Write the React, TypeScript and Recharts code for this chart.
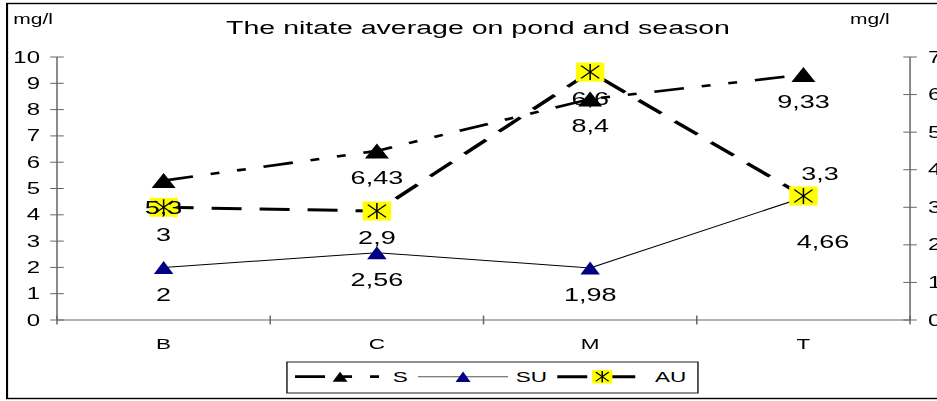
import React from "react";
import { LineChart, Line, XAxis, YAxis, LabelList } from "recharts";

// ponds and seasonal nitrate averages (mg/l)
const ponds = ["B", "C", "M", "T"];
const springValues = [5.3, 6.43, 8.4, 9.33];
const summerValues = [2, 2.56, 1.98, 4.66];
const autumnValues = [3, 2.9, 6.6, 3.3]; // plotted on the right axis
const leftTicks = [0, 1, 2, 3, 4, 5, 6, 7, 8, 9, 10];
const rightTicks = [0, 1, 2, 3, 4, 5, 6, 7];

const data = ponds.map((pond, i) => ({
  pond,
  S: springValues[i],
  SU: summerValues[i],
  AU: autumnValues[i],
}));

// the sheet is drawn narrow and then widened, like the exported figure
const STRETCH = 1.5;
const W = 640;
const H = 401;
const PLOT_LEFT = 38;
const PLOT_RIGHT = 606.7;
const PLOT_TOP = 57;
const PLOT_BOTTOM = 320;
const HALF_BAND = (PLOT_RIGHT - PLOT_LEFT) / 8;

const FONT = "'Liberation Sans', Arial, sans-serif";
const AXIS = "#666";
const NAVY = "#000080";
const YELLOW = "#FFFF00";
const S_DASH = "20 12 6 12 6 12";
const AU_DASH = "20 12";

// label shifts [dx, dy] from the point; default sits under the marker
const labelShift: Record<string, Record<number, [number, number]>> = {
  S: {},
  SU: { 3: [13, 44] },
  AU: { 3: [11, -22] },
};

const fmt = (v: number) => String(v).replace(".", ",");

function Triangle({ cx, cy, w, h, fill }: any) {
  return (
    <polygon
      points={`${cx},${cy - h / 2} ${cx + w / 2},${cy + h / 2} ${cx - w / 2},${cy + h / 2}`}
      fill={fill}
    />
  );
}

function Asterisk({ cx, cy, size = 19 }: any) {
  const r = size / 2;
  const arm = r * 0.84;
  const diag = r * 0.64;
  return (
    <g>
      <rect x={cx - r} y={cy - r} width={size} height={size} fill={YELLOW} />
      <line x1={cx} y1={cy - arm} x2={cx} y2={cy + arm} stroke="#000" strokeWidth={1} />
      <line x1={cx - diag} y1={cy - arm * 0.8} x2={cx + diag} y2={cy + arm * 0.8} stroke="#000" strokeWidth={1} />
      <line x1={cx - diag} y1={cy + arm * 0.8} x2={cx + diag} y2={cy - arm * 0.8} stroke="#000" strokeWidth={1} />
    </g>
  );
}

const springDot = (p: any) => (
  <Triangle key={`s-${p.index}`} cx={p.cx} cy={p.cy} w={16} h={15} fill="#000" />
);
const summerDot = (p: any) => (
  <Triangle key={`su-${p.index}`} cx={p.cx} cy={p.cy} w={13} h={13} fill={NAVY} />
);
const autumnDot = (p: any) => <Asterisk key={`au-${p.index}`} cx={p.cx} cy={p.cy} />;

const valueLabel = (series: string) => (p: any) => {
  const [dx, dy] = labelShift[series][p.index] ?? [0, 27];
  return (
    <text
      x={p.x + dx}
      y={p.y + dy}
      textAnchor="middle"
      dominantBaseline="central"
      fontFamily={FONT}
      fontSize={18}
      fill="#000"
    >
      {fmt(p.value)}
    </text>
  );
};

const yTick = (side: "left" | "right") => (p: any) => {
  const { x, y, payload } = p;
  return (
    <g>
      <line x1={x - 4.5} y1={y} x2={x + 4.5} y2={y} stroke={AXIS} />
      <text
        x={side === "left" ? x - 11.3 : x + 12}
        y={y}
        dy="0.35em"
        textAnchor={side === "left" ? "end" : "start"}
        fontFamily={FONT}
        fontSize={16}
        fill="#000"
      >
        {payload.value}
      </text>
    </g>
  );
};

const xTick = (p: any) => {
  const { x, y, payload, index, visibleTicksCount } = p;
  const last = index === visibleTicksCount - 1;
  return (
    <g>
      <line x1={x - HALF_BAND} y1={y - 4.5} x2={x - HALF_BAND} y2={y + 4.5} stroke={AXIS} />
      {last && (
        <line x1={x + HALF_BAND} y1={y - 4.5} x2={x + HALF_BAND} y2={y + 4.5} stroke={AXIS} />
      )}
      <text
        x={x}
        y={y + 23.5}
        dy="0.35em"
        textAnchor="middle"
        fontFamily={FONT}
        fontSize={15}
        fill="#000"
      >
        {payload.value}
      </text>
    </g>
  );
};

const legendItems = [
  { name: "S", x: 5.4, dash: S_DASH, width: 2.8, marker: "s" },
  { name: "SU", x: 87.4, dash: undefined, width: 1, marker: "su" },
  { name: "AU", x: 180.2, dash: AU_DASH, width: 3, marker: "au" },
];

function Overlay() {
  const lx = 191.3;
  const ly = 362;
  const cy = 14.7;
  return (
    <svg
      width={W}
      height={H}
      style={{ position: "absolute", left: 0, top: 0, pointerEvents: "none" }}
    >
      <rect x={4.7} y={3.5} width={700} height={395} fill="none" stroke="#000" strokeWidth={1.4} />
      <text x={318.7} y={34} textAnchor="middle" fontFamily={FONT} fontSize={19} fill="#000">
        The nitate average on pond and season
      </text>
      <text x={8.9} y={24} fontFamily={FONT} fontSize={14} fill="#000">
        mg/l
      </text>
      <text x={566.7} y={24} fontFamily={FONT} fontSize={14} fill="#000">
        mg/l
      </text>
      <g transform={`translate(${lx},${ly})`}>
        <rect x={0} y={0} width={274} height={31} fill="#fff" stroke="#222" strokeWidth={1} />
        {legendItems.map((it) => {
          const mid = it.x + 30;
          return (
            <g key={it.name}>
              <line
                x1={it.x}
                y1={cy}
                x2={it.x + 60}
                y2={cy}
                stroke={it.marker === "su" ? "#555" : "#000"}
                strokeWidth={it.width}
                strokeDasharray={it.dash}
              />
              {it.marker === "s" && <Triangle cx={mid} cy={cy} w={10} h={10} fill="#000" />}
              {it.marker === "su" && <Triangle cx={mid} cy={cy} w={10} h={10.5} fill={NAVY} />}
              {it.marker === "au" && <Asterisk cx={mid} cy={cy} size={13.5} />}
              <text x={it.x + 65.1} y={19.7} fontFamily={FONT} fontSize={15} fill="#000">
                {it.name}
              </text>
            </g>
          );
        })}
      </g>
    </svg>
  );
}

export default function App() {
  return (
    <div
      style={{
        position: "absolute",
        left: 0,
        top: 0,
        width: 937,
        height: 401,
        overflow: "hidden",
        background: "#fff",
      }}
    >
      <div
        style={{
          position: "relative",
          width: W,
          height: H,
          transform: `scaleX(${STRETCH})`,
          transformOrigin: "0 0",
        }}
      >
        <LineChart
          width={W}
          height={H}
          data={data}
          margin={{ top: PLOT_TOP, right: 0, bottom: H - PLOT_BOTTOM - 30, left: 0 }}
        >
          <XAxis
            dataKey="pond"
            scale="point"
            padding={{ left: HALF_BAND, right: HALF_BAND }}
            height={30}
            interval={0}
            axisLine={{ stroke: AXIS }}
            tickLine={false}
            tickSize={0}
            tickMargin={0}
            tick={xTick}
          />
          <YAxis
            yAxisId="left"
            orientation="left"
            width={PLOT_LEFT}
            domain={[0, 10]}
            ticks={leftTicks}
            interval={0}
            axisLine={{ stroke: AXIS }}
            tickLine={false}
            tickSize={0}
            tickMargin={0}
            tick={yTick("left")}
          />
          <YAxis
            yAxisId="right"
            orientation="right"
            width={W - PLOT_RIGHT}
            domain={[0, 7]}
            ticks={rightTicks}
            interval={0}
            axisLine={{ stroke: AXIS }}
            tickLine={false}
            tickSize={0}
            tickMargin={0}
            tick={yTick("right")}
          />
          <Line
            yAxisId="left"
            type="linear"
            dataKey="S"
            stroke="#000"
            strokeWidth={2.6}
            strokeDasharray={S_DASH}
            dot={springDot}
            activeDot={false}
            isAnimationActive={false}
          >
            <LabelList dataKey="S" content={valueLabel("S")} />
          </Line>
          <Line
            yAxisId="left"
            type="linear"
            dataKey="SU"
            stroke="#000"
            strokeWidth={1}
            dot={summerDot}
            activeDot={false}
            isAnimationActive={false}
          >
            <LabelList dataKey="SU" content={valueLabel("SU")} />
          </Line>
          <Line
            yAxisId="right"
            type="linear"
            dataKey="AU"
            stroke="#000"
            strokeWidth={3}
            strokeDasharray={AU_DASH}
            dot={autumnDot}
            activeDot={false}
            isAnimationActive={false}
          >
            <LabelList dataKey="AU" content={valueLabel("AU")} />
          </Line>
        </LineChart>
        <Overlay />
      </div>
    </div>
  );
}
